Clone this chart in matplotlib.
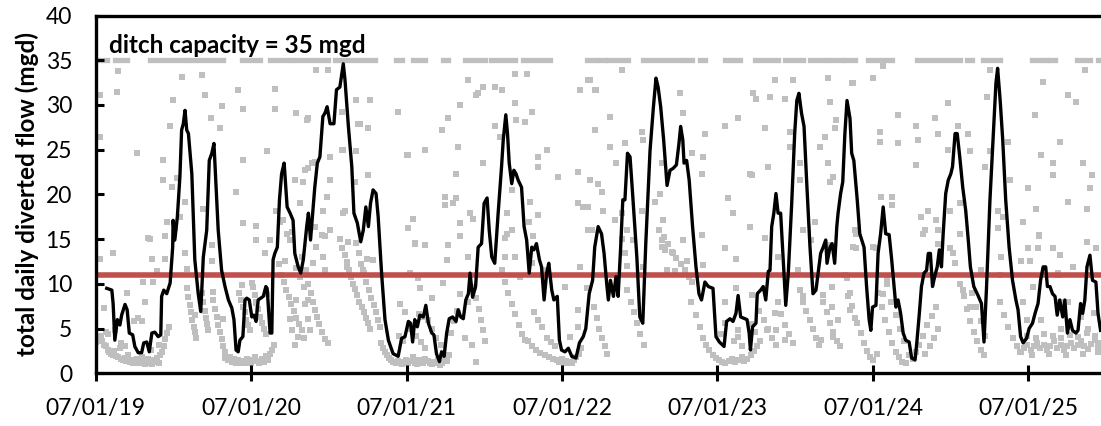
import numpy as np
import matplotlib
matplotlib.use('Agg')
import matplotlib.pyplot as plt
import matplotlib.dates as mdates

plt.rcParams['font.family'] = ['Lato', 'DejaVu Sans']

START = np.datetime64('2019-07-01')
END_DAY = 2363  # right edge of the (cropped) axis, days after 07/01/19

# smoothed flow (black line): days after 07/01/19 and mgd
flow_day = [26, 38, 41, 45, 51, 57, 61, 69, 74, 79, 87, 92, 100, 108, 113, 120, 126, 132, 139, 147,
            153, 155, 160, 167, 175, 181, 182, 186, 192, 198, 202, 206, 210, 214, 218, 226, 233, 241, 247, 253,
            261, 267, 273, 278, 283, 288, 296, 304, 312, 320, 325, 330, 335, 339, 346, 351, 355, 361, 367, 372,
            377, 382, 388, 394, 400, 403, 406, 410, 414, 417, 421, 427, 432, 437, 443, 450, 457, 464, 468, 476,
            482, 488, 496, 500, 505, 510, 515, 521, 527, 534, 539, 544, 551, 560, 566, 574, 582, 586, 594, 602,
            607, 615, 623, 629, 635, 641, 646, 652, 659, 664, 672, 680, 688, 699, 711, 719, 727, 735, 740, 745,
            750, 756, 762, 770, 776, 782, 790, 795, 801, 808, 813, 819, 825, 831, 839, 847, 852, 858, 864, 870,
            876, 880, 886, 893, 899, 907, 913, 920, 925, 931, 938, 946, 954, 958, 964, 968, 972, 978, 983, 988,
            993, 1001, 1007, 1013, 1019, 1025, 1030, 1036, 1043, 1048, 1054, 1060, 1065, 1072, 1077, 1085, 1090, 1095, 1103, 1111,
            1119, 1129, 1137, 1146, 1152, 1160, 1168, 1173, 1181, 1189, 1195, 1201, 1205, 1210, 1217, 1223, 1228, 1234, 1239, 1244,
            1250, 1256, 1262, 1272, 1279, 1286, 1293, 1303, 1311, 1317, 1322, 1328, 1335, 1343, 1350, 1357, 1365, 1371, 1375, 1380,
            1383, 1389, 1395, 1403, 1411, 1418, 1424, 1432, 1440, 1451, 1458, 1466, 1477, 1483, 1491, 1498, 1505, 1510, 1516, 1526,
            1531, 1536, 1539, 1544, 1552, 1555, 1563, 1569, 1575, 1581, 1585, 1589, 1594, 1599, 1604, 1610, 1616, 1622, 1628, 1636,
            1643, 1648, 1653, 1659, 1665, 1671, 1679, 1686, 1693, 1698, 1704, 1710, 1716, 1719, 1726, 1731, 1737, 1742, 1745, 1751,
            1756, 1761, 1766, 1773, 1777, 1782, 1790, 1796, 1806, 1812, 1818, 1822, 1826, 1834, 1839, 1845, 1851, 1857, 1865, 1871,
            1876, 1881, 1886, 1892, 1898, 1904, 1912, 1918, 1926, 1930, 1936, 1941, 1947, 1953, 1957, 1962, 1967, 1972, 1978, 1983,
            1988, 1992, 1998, 2004, 2010, 2014, 2020, 2025, 2031, 2038, 2045, 2051, 2056, 2064, 2074, 2082, 2088, 2094, 2102, 2110,
            2116, 2120, 2126, 2132, 2139, 2147, 2155, 2163, 2168, 2174, 2180, 2188, 2194, 2202, 2208, 2215, 2221, 2227, 2233, 2237,
            2243, 2249, 2255, 2260, 2266, 2273, 2278, 2284, 2290, 2296, 2304, 2309, 2315, 2320, 2325, 2330, 2337, 2343, 2351, 2356,
            2362]
flow_mgd = [9.5, 9.3, 7.8, 3.7, 6.0, 5.4, 6.5, 7.7, 7.1, 4.5, 4.3, 3.0, 2.3, 2.3, 3.4, 3.5, 2.4, 4.5, 4.6, 4.1,
            4.3, 8.6, 9.3, 8.9, 10.1, 14.1, 17.1, 14.9, 17.5, 22.0, 27.2, 27.9, 29.4, 27.2, 26.8, 22.3, 12.7, 8.9, 6.9, 13.0,
            16.0, 23.8, 24.6, 25.7, 20.8, 16.0, 11.5, 9.7, 8.2, 7.3, 6.0, 2.6, 2.4, 3.7, 4.1, 8.2, 8.4, 8.2, 6.3, 6.5,
            5.8, 8.2, 8.4, 8.6, 9.7, 9.5, 7.4, 4.5, 4.5, 12.7, 13.4, 14.1, 19.4, 22.3, 23.5, 18.6, 17.9, 17.1, 13.4, 11.9,
            11.2, 12.7, 16.4, 17.9, 14.9, 17.9, 20.8, 23.5, 24.2, 28.7, 29.1, 29.8, 27.9, 27.9, 31.7, 32.0, 34.6, 32.8, 27.6, 23.1,
            17.9, 16.8, 14.7, 16.0, 18.6, 16.4, 19.0, 20.5, 20.1, 17.5, 11.2, 6.0, 3.7, 2.2, 1.9, 3.9, 4.1, 5.8, 5.6, 3.5,
            6.0, 5.2, 6.5, 6.3, 7.6, 5.6, 4.5, 4.3, 2.2, 1.3, 2.4, 1.9, 4.5, 6.1, 6.3, 5.8, 7.1, 6.3, 6.1, 8.2,
            8.9, 11.2, 8.5, 9.7, 14.1, 14.5, 19.0, 19.6, 16.0, 13.0, 12.3, 17.9, 23.1, 26.1, 28.9, 26.8, 23.5, 21.2, 22.7, 22.3,
            21.6, 20.8, 16.4, 14.9, 11.2, 14.1, 13.8, 14.5, 12.7, 11.9, 8.2, 11.2, 12.3, 9.3, 8.2, 8.6, 3.7, 2.6, 2.4, 2.8,
            1.9, 1.7, 3.4, 4.1, 5.0, 8.9, 10.4, 14.1, 16.4, 15.6, 13.4, 10.1, 8.2, 10.4, 8.6, 10.8, 8.6, 14.1, 19.4, 19.4,
            24.6, 24.2, 20.1, 13.0, 6.3, 5.6, 14.5, 24.9, 29.8, 33.0, 32.0, 29.8, 26.1, 21.0, 22.7, 22.9, 23.3, 25.7, 27.6, 26.1,
            23.5, 23.8, 21.6, 16.4, 11.9, 8.9, 8.2, 10.2, 9.7, 9.5, 4.1, 3.5, 3.0, 5.8, 6.1, 5.8, 6.7, 8.7, 6.3, 6.1,
            6.0, 4.5, 2.6, 5.2, 5.6, 8.9, 9.3, 9.7, 8.2, 11.4, 11.5, 16.4, 17.9, 20.1, 17.9, 17.9, 12.7, 7.6, 11.2, 19.0,
            26.8, 30.5, 31.3, 29.1, 27.6, 21.6, 14.1, 8.9, 9.3, 11.2, 13.4, 14.1, 14.9, 12.3, 14.1, 14.5, 12.3, 16.4, 17.9, 20.1,
            21.4, 26.8, 30.5, 28.5, 24.6, 23.8, 19.4, 15.6, 14.1, 9.7, 6.0, 4.8, 7.4, 7.6, 13.4, 15.6, 18.6, 15.6, 15.5, 12.7,
            10.1, 7.4, 8.2, 6.7, 4.5, 3.7, 3.5, 1.7, 1.5, 3.4, 6.7, 9.7, 11.2, 11.5, 13.4, 13.4, 9.7, 10.8, 11.9, 13.8,
            11.9, 15.6, 20.1, 21.6, 22.3, 23.1, 26.8, 26.8, 24.2, 20.8, 18.2, 14.9, 11.9, 9.7, 8.7, 7.8, 3.5, 9.7, 19.4, 26.8,
            32.4, 34.1, 30.5, 26.1, 19.4, 14.1, 10.4, 8.2, 7.1, 4.1, 3.4, 3.9, 5.0, 5.6, 6.7, 7.8, 10.4, 11.9, 11.9, 9.7,
            9.7, 8.9, 8.6, 6.5, 8.2, 6.3, 8.2, 4.5, 6.0, 4.8, 4.5, 4.8, 7.8, 6.7, 8.2, 11.9, 13.2, 10.4, 10.2, 6.7,
            4.8]

# days when the daily diversion sat at ditch capacity (first day, last day)
cap_runs = [(2, 26), (45, 73), (128, 214), (226, 299), (343, 358), (370, 386), (410, 449), (461, 546),
            (562, 656), (707, 719), (746, 774), (816, 828), (868, 915), (930, 985), (1005, 1068),
            (1154, 1177), (1185, 1197), (1204, 1251), (1286, 1380), (1392, 1401), (1420, 1432),
            (1479, 1491), (1503, 1515), (1549, 1603), (1620, 1662), (1679, 1707), (1719, 1754),
            (1761, 1785), (1815, 1850), (1862, 1872), (1930, 2031), (2047, 2059), (2085, 2125),
            (2200, 2235), (2243, 2254), (2306, 2337), (2355, 2362)]
capacity = 35
threshold = 11

# daily values (grey squares), low-flow band: (day, mgd)
daily_low = [
    (0, 3.5), (4, 4.0), (8, 3.8), (12, 4.2), (16, 3.6), (20, 3.2), (24, 3.0), (28, 2.6), (32, 2.4), (36, 2.2),
    (40, 2.0), (44, 2.5), (48, 1.9), (52, 1.8), (56, 2.8), (60, 1.6), (64, 1.5), (68, 1.7), (72, 1.4), (76, 2.0),
    (80, 1.3), (84, 1.5), (88, 1.2), (92, 1.4), (96, 1.6), (100, 1.1), (104, 1.3), (108, 1.8), (112, 1.2), (116, 1.0),
    (120, 1.4), (124, 1.6), (128, 1.2), (132, 1.0), (136, 1.5), (140, 1.3), (144, 1.7), (148, 1.1), (152, 2.0), (156, 2.4),
    (160, 3.0), (164, 3.8), (168, 4.5), (172, 5.2), (30, 4.4), (45, 4.8), (90, 5.8), (100, 6.2), (110, 5.9), (70, 3.0),
    (130, 2.6), (150, 3.2), (60, 3.4), (25, 4.6),
    (215, 9.5), (218, 8.5), (221, 7.6), (224, 6.8), (227, 6.0), (230, 5.2), (233, 4.6), (236, 4.0),
    (250, 9.0), (253, 8.0), (256, 7.0), (259, 6.2), (262, 5.5), (265, 4.8),
    (276, 8.2), (280, 7.2), (284, 6.3), (288, 5.4), (292, 4.6), (296, 3.8), (300, 3.0), (304, 2.4),
    (305, 1.7), (310, 1.5), (315, 1.8), (320, 1.3), (325, 1.6), (330, 1.2), (335, 1.5), (340, 1.1), (345, 1.4),
    (350, 1.2), (355, 1.6), (360, 1.3), (365, 1.1), (370, 1.5), (375, 1.8), (380, 1.4), (385, 1.2), (390, 1.6),
    (395, 1.3), (400, 1.9), (405, 1.5), (410, 2.2), (415, 2.6), (420, 3.2),
    (338, 9.0), (342, 8.2), (346, 7.4), (350, 6.8), (354, 6.0), (358, 5.4), (362, 4.8),
    (370, 9.6), (374, 8.8), (378, 7.9), (382, 7.2), (386, 6.3), (390, 5.6), (395, 4.9), (400, 4.4),
    (430, 12.2), (436, 11.0), (442, 10.2), (448, 9.3), (454, 8.5), (460, 7.8), (466, 7.0), (472, 6.2), (478, 5.5),
    (484, 4.8), (490, 4.0), (495, 11.5), (500, 10.0), (505, 9.0), (510, 8.0), (515, 7.1), (520, 6.3), (526, 5.5),
    (532, 4.6), (538, 3.8), (545, 3.4), (470, 11.8), (480, 10.8), (490, 9.6), (500, 8.2),
    (575, 15.0), (580, 14.0), (585, 13.2), (590, 12.4), (595, 11.6), (600, 10.8), (605, 10.0), (610, 9.4), (615, 8.8),
    (620, 8.0), (625, 7.4), (630, 6.8), (635, 6.2), (640, 5.6), (645, 5.0), (612, 14.6), (618, 13.4), (624, 12.2),
    (630, 11.2), (636, 10.2), (642, 9.3), (648, 8.4), (654, 7.6), (660, 6.8), (664, 6.0), (668, 5.2),
    (670, 3.4), (675, 2.8), (680, 2.4), (685, 2.0), (690, 1.7), (695, 1.5), (700, 1.3), (705, 1.1), (710, 1.4),
    (715, 1.2), (720, 1.0), (725, 1.3), (730, 1.5), (735, 1.1), (740, 1.4), (745, 1.8), (750, 1.2), (755, 1.0),
    (760, 1.5), (765, 1.3), (770, 1.1), (775, 1.6), (780, 1.4), (785, 1.2), (790, 1.0), (795, 1.3), (800, 1.1),
    (805, 1.5), (810, 0.9), (815, 1.2), (820, 1.6), (825, 1.4), (830, 2.0),
    (712, 4.2), (722, 3.6), (740, 5.0), (752, 4.2), (765, 3.5), (780, 6.0), (790, 5.0), (800, 4.0), (812, 3.2),
    (760, 6.6), (775, 2.8), (835, 4.5), (842, 5.8), (850, 7.0),
    (890, 9.6), (895, 8.4), (900, 7.2), (905, 6.0), (910, 4.8), (915, 3.6),
    (955, 11.5), (962, 10.2), (970, 9.0), (978, 7.8), (986, 6.6), (994, 5.4), (1002, 4.4), (1010, 3.7),
    (1015, 3.6), (1025, 3.0), (1035, 2.6), (1045, 2.3), (1055, 2.0), (1065, 1.8), (1075, 1.6), (1085, 1.5),
    (1090, 1.3), (1095, 1.6), (1100, 1.2), (1105, 1.4), (1110, 1.1), (1115, 1.3), (1120, 1.2), (1125, 1.5),
    (1130, 1.8), (1135, 2.2), (1140, 2.8), (1060, 4.0), (1070, 3.5), (1080, 3.0), (1050, 5.2), (1040, 6.0), (1030, 6.8),
    (1172, 7.4), (1178, 6.2), (1184, 5.0), (1190, 4.0), (1196, 3.0), (1202, 2.2),
    (1250, 9.3), (1258, 8.0), (1265, 6.8), (1272, 5.6), (1280, 4.4), (1288, 3.2),
    (1238, 15.0), (1244, 13.5), (1250, 12.0),
    (1325, 16.0), (1335, 15.2), (1345, 14.4), (1355, 13.6), (1365, 12.9), (1375, 12.2), (1385, 11.5), (1395, 10.8), (1402, 10.2),
    (1400, 8.0), (1410, 6.5), (1420, 5.2), (1428, 4.0), (1435, 3.2), (1442, 2.6), (1450, 2.0), (1458, 1.7), (1465, 1.5),
    (1472, 1.3), (1480, 1.2), (1488, 1.4), (1495, 1.6), (1502, 1.3), (1510, 1.5), (1518, 1.8), (1525, 1.4), (1532, 1.6),
    (1540, 2.0), (1548, 2.5), (1555, 3.0), (1562, 3.6),
    (1470, 4.4), (1480, 5.6), (1500, 3.6), (1510, 4.8), (1520, 3.0), (1540, 5.5), (1550, 4.6),
    (1560, 7.0), (1570, 6.0), (1580, 5.0), (1590, 4.0), (1600, 3.2), (1610, 6.6), (1620, 5.4), (1630, 4.4), (1640, 3.4),
    (1655, 9.3), (1662, 8.0), (1670, 7.0), (1678, 6.0), (1686, 5.0), (1694, 4.0), (1700, 3.2), (1710, 8.0), (1718, 6.8),
    (1726, 5.6), (1734, 4.6), (1742, 3.6), (1750, 3.0),
    (1766, 10.7), (1772, 9.0), (1778, 7.5), (1784, 6.2), (1790, 5.6),
    (1798, 4.5), (1805, 3.4), (1812, 2.5), (1820, 1.8), (1828, 1.5), (1836, 2.2),
    (1840, 9.0), (1848, 7.4), (1856, 6.0), (1864, 4.6), (1872, 3.4), (1880, 2.4), (1888, 1.8), (1896, 1.3), (1904, 1.1),
    (1860, 10.0), (1870, 8.0), (1880, 6.5), (1890, 5.0), (1900, 3.6),
    (1912, 2.0), (1920, 1.6), (1928, 2.4), (1936, 3.2), (1945, 4.2), (1955, 5.4), (1965, 6.4), (1975, 7.4),
    (1950, 2.2), (1960, 3.0), (1970, 4.0), (1980, 5.0),
    (2032, 10.0), (2040, 8.6), (2048, 7.2), (2056, 5.8), (2064, 4.6), (2072, 3.6), (2080, 2.6), (2088, 2.0),
    (2060, 9.0), (2070, 7.4), (2080, 5.8), (2090, 4.2),
    (2125, 8.0), (2135, 6.5), (2145, 5.2), (2155, 4.0), (2165, 3.0), (2172, 2.4),
    (2175, 2.4), (2182, 2.8), (2190, 3.2), (2198, 2.6), (2205, 3.0), (2212, 3.4), (2220, 2.8), (2228, 3.2), (2236, 2.6),
    (2244, 3.0), (2252, 3.6), (2260, 2.8), (2268, 3.2), (2276, 2.6), (2284, 3.0), (2292, 3.4), (2300, 2.8), (2308, 3.2),
    (2316, 3.6), (2324, 3.0), (2332, 2.7), (2340, 3.3), (2348, 3.7), (2356, 3.0), (2362, 3.4),
    (2190, 4.2), (2210, 4.0), (2230, 4.4), (2250, 4.2), (2270, 4.0), (2290, 4.3), (2310, 4.1), (2330, 4.5), (2350, 4.2),
    (2200, 2.0), (2240, 2.2), (2280, 2.0), (2320, 2.2), (2355, 2.4),
]

# daily values (grey squares), scattered high-flow days: (day, mgd)
daily_high = [
    (53, 33.8), (10, 31.1), (49, 31.5), (10, 26.4), (96, 24.6), (159, 23.8), (182, 30.5), (202, 33.1), (249, 33.3),
    (257, 31.1), (296, 29.9), (270, 28.5), (175, 27.6), (292, 27.4), (335, 31.7), (347, 29.6), (421, 31.8), (421, 29.6),
    (472, 29.1), (496, 28.3), (402, 24.9), (347, 23.8), (331, 20.3), (159, 21.6), (179, 20.8), (210, 19.2), (198, 17.5),
    (253, 18.4), (347, 16.8), (378, 16.5), (378, 14.9), (425, 18.1), (433, 16.9), (128, 15.0), (41, 13.4), (132, 12.8),
    (10, 12.8), (112, 10.2), (135, 10.2), (73, 9.0), (116, 8.0), (20, 7.3), (378, 8.0), (402, 8.9),
    (519, 33.9), (547, 33.9), (500, 28.5), (613, 30.5), (645, 30.5), (711, 29.2), (621, 27.9), (641, 27.4), (813, 27.2),
    (829, 28.5), (876, 32.8), (895, 31.1), (852, 25.3), (731, 24.4), (774, 25.0), (848, 22.3), (821, 19.7), (840, 19.0),
    (880, 17.9), (746, 17.3), (733, 16.3), (856, 15.3), (750, 14.6), (774, 14.3), (829, 14.3), (876, 13.0), (817, 10.1),
    (508, 23.5), (492, 22.7), (551, 24.2), (582, 25.0), (613, 24.8), (488, 21.4), (551, 21.6), (480, 19.0), (535, 18.2),
    (582, 17.9), (551, 16.0), (531, 15.5), (594, 14.7), (519, 14.1), (637, 12.8), (535, 13.0), (590, 11.9), (629, 11.5),
    (652, 12.7), (578, 29.2), (617, 27.9), (500, 22.9), (468, 21.6), (515, 23.6), (578, 25.0), (609, 21.4), (641, 22.2),
    (190, 21.8), (167, 16.9), (186, 16.2), (543, 19.7), (586, 18.1), (515, 16.4), (441, 17.1), (449, 15.6), (461, 15.8),
    (163, 15.3), (124, 15.1), (163, 12.8), (143, 11.4), (210, 13.4), (214, 11.7), (273, 14.3), (273, 12.5), (410, 14.9),
    (398, 13.4), (539, 15.3), (539, 11.5), (511, 12.3), (457, 14.9), (445, 12.5), (484, 13.0),
    (276, 9.1), (233, 6.5), (300, 6.1), (343, 9.9), (367, 10.1), (457, 6.1), (461, 4.8), (500, 6.1), (504, 4.8),
    (476, 4.1), (468, 3.2), (492, 7.8), (472, 8.2),
    (735, 24.4), (856, 30.0), (899, 31.3), (911, 32.0), (938, 32.0), (954, 31.7), (985, 33.5), (1013, 33.5), (985, 30.2),
    (938, 27.6), (989, 28.3), (1009, 28.1), (1025, 29.2), (911, 23.5), (821, 18.8), (848, 19.6), (888, 17.3), (856, 16.8),
    (1040, 24.2), (1060, 25.0), (1087, 22.0), (1134, 22.5), (1162, 21.6), (1138, 31.7), (1162, 32.8), (1174, 31.7),
    (1146, 18.6), (1166, 16.0), (950, 26.4), (978, 20.5), (1021, 19.2), (966, 17.9), (1040, 17.7), (1019, 16.9),
    (1158, 18.6), (1193, 18.2), (1134, 19.0), (966, 15.6), (978, 16.0), (962, 13.0), (1158, 16.0), (1224, 23.5),
    (1209, 25.3), (1244, 25.7), (1173, 27.2), (1209, 28.7), (1158, 32.8), (1177, 31.7), (1236, 33.9), (1283, 27.0),
    (1287, 26.1), (1330, 23.5), (1326, 20.1), (1314, 19.2), (1283, 18.2), (1334, 17.1), (1330, 14.1), (1236, 17.9),
    (1248, 16.0), (1220, 17.1), (1263, 14.9), (1287, 11.9), (1181, 21.2), (1189, 20.3), (1040, 23.1),
    (750, 14.5), (825, 12.7), (739, 11.2), (758, 10.6), (762, 9.5), (790, 8.4), (715, 7.8), (727, 6.9), (766, 6.3),
    (856, 8.9), (876, 8.0), (852, 6.7), (868, 3.9), (884, 3.2), (895, 1.3), (962, 15.1), (985, 13.0), (997, 10.8),
    (1028, 15.3), (1025, 12.3), (1052, 11.5), (1103, 9.7), (1134, 7.1), (1154, 9.5), (1134, 5.2), (1115, 4.1), (1138, 11.9),
    (1373, 31.3), (1381, 29.1), (1432, 26.8), (1428, 24.2), (1424, 22.3), (1401, 24.6), (1479, 27.7), (1510, 28.5),
    (1487, 19.6), (1498, 17.9), (1538, 16.4), (1542, 22.2), (1545, 31.3), (1553, 30.7), (1585, 30.9), (1620, 30.7),
    (1596, 32.8), (1639, 32.8), (1573, 27.4), (1581, 23.1), (1632, 27.0), (1632, 25.3), (1655, 23.5), (1655, 21.6),
    (1722, 33.0), (1726, 30.3), (1777, 32.4), (1741, 28.3), (1737, 27.4), (1714, 26.4), (1702, 25.3), (1721, 23.5),
    (1733, 22.0), (1726, 21.4), (1690, 16.9), (1663, 16.0), (1682, 14.9), (1726, 14.3), (1780, 14.1), (1538, 22.3),
    (1424, 15.5), (1479, 14.0), (1506, 12.8), (1573, 15.1), (1604, 13.0),
    (1330, 14.9), (1357, 13.4), (1338, 13.8), (1381, 14.9), (1389, 12.5), (1342, 11.5), (1361, 11.4), (1428, 12.1),
    (1479, 8.0), (1506, 9.5), (1542, 8.7), (1510, 4.1), (1577, 4.8), (1600, 4.8), (1620, 3.7), (1596, 6.7), (1604, 8.0),
    (1651, 11.5), (1663, 8.6), (1730, 9.7), (1710, 8.7), (1730, 7.4), (1745, 6.0), (1733, 4.1), (1706, 3.7),
    (1851, 34.4), (1827, 33.0), (1780, 32.4), (1886, 28.9), (1843, 27.0), (1843, 25.9), (1886, 25.7), (1929, 27.7),
    (1972, 28.5), (1980, 26.8), (2003, 30.2), (2027, 27.7), (2050, 26.8), (2055, 24.8), (2094, 30.9), (2102, 33.9),
    (2145, 25.9), (2102, 24.8), (2090, 23.1), (1929, 23.3), (1933, 26.1), (2003, 25.0), (2149, 21.6), (2207, 28.9),
    (2227, 32.6), (2286, 31.1), (2304, 30.3), (2325, 33.9), (2223, 24.4), (2266, 25.9), (2251, 23.5), (2321, 23.5),
    (2341, 22.2), (2251, 22.2), (2192, 20.7), (2286, 19.2), (2337, 20.7), (2329, 18.4), (2211, 18.4), (2180, 16.9),
    (2218, 15.5), (2192, 14.0), (2216, 14.0), (2251, 14.0), (2266, 13.2), (2329, 14.7), (2352, 14.0), (2176, 12.5),
    (2195, 12.5), (2262, 11.0), (1871, 19.7), (1847, 19.7), (1871, 18.8), (1957, 18.2), (1941, 17.5), (1976, 17.1),
    (1949, 16.0), (1980, 16.0), (2031, 19.0), (2008, 18.2), (2031, 15.6), (2008, 14.0), (2121, 18.2), (2121, 16.2),
    (2133, 17.5), (2129, 13.0), (1835, 14.0), (1788, 14.0), (1784, 16.0),
    (1788, 15.6), (1761, 11.0), (1769, 8.6), (1773, 7.1), (1827, 14.1), (1859, 10.4), (1851, 8.9), (1945, 15.6),
    (1980, 14.5), (2015, 13.4), (2019, 12.3), (2031, 15.6), (2039, 9.3), (2055, 7.4), (2082, 11.5), (2125, 11.0),
    (2129, 13.0), (2218, 15.3), (2214, 14.0), (2262, 11.2), (2180, 8.0), (2188, 6.0), (2204, 9.7), (2223, 6.0),
    (2266, 8.0), (2286, 8.0), (2269, 5.0), (2332, 5.0), (2316, 6.3), (2347, 6.7), (2298, 11.9),
]

tick_dates = ['2019-07-01', '2020-07-01', '2021-07-01', '2022-07-01',
              '2023-07-01', '2024-07-01', '2025-07-01']


def to_date(days):
    return START + np.asarray(days, dtype=int).astype('timedelta64[D]')


grey = '#BFBFBF'
fig = plt.figure(figsize=(11.01, 4.26), dpi=100)
ax = fig.add_axes([0.0869, 0.1237, 1 - 0.0869, 0.9636 - 0.1237])

# daily grey squares
pts = daily_low + daily_high
ax.scatter(to_date([p[0] for p in pts]), [p[1] for p in pts], marker='s', s=18,
           color=grey, linewidths=0, zorder=1)
# days at ditch capacity
for a, b in cap_runs:
    ax.plot(to_date([a, b]), [capacity, capacity], color=grey, lw=3.8,
            solid_capstyle='projecting', zorder=1)

ax.axhline(threshold, color='#C0504D', lw=4, zorder=2)
ax.plot(to_date(flow_day), flow_mgd, color='black', lw=2.4, zorder=3)

ax.text(0.013, 36.7, 'ditch capacity = 35 mgd', transform=ax.get_yaxis_transform(),
        fontsize=17.5, fontweight='bold', va='center', ha='left')

ax.set_xlim(START, to_date([END_DAY])[0])
ax.set_ylim(0, 40)
ax.set_yticks(range(0, 41, 5))
ax.set_xticks([np.datetime64(d) for d in tick_dates])
ax.xaxis.set_major_formatter(mdates.DateFormatter('%m/%d/%y'))
ax.set_ylabel('total daily diverted flow (mgd)', fontsize=17.5, fontweight='bold', labelpad=5)

ax.spines['right'].set_visible(False)
for s in ['left', 'bottom', 'top']:
    ax.spines[s].set_linewidth(2.4)
ax.tick_params(axis='x', direction='inout', length=11, width=2.2, labelsize=16.5, pad=12)
ax.tick_params(axis='y', direction='in', length=6, width=2.2, labelsize=16.5, pad=17)

fig.savefig('out.png', dpi=100)
